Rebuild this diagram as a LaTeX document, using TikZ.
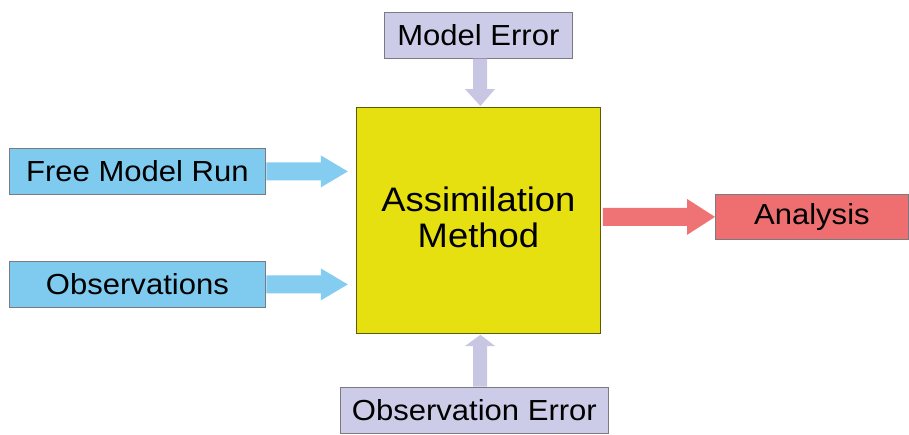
\documentclass[tikz,border=0pt]{standalone}
\usepackage{fontspec}
\setmainfont[FakeStretch=1.07]{Liberation Sans}
\usetikzlibrary{calc}
\definecolor{boxblue}{HTML}{7FCBEF}
\definecolor{arrblue}{HTML}{84CDF0}
\definecolor{lav}{HTML}{CDCCE8}
\definecolor{arrlav}{HTML}{C9C6E3}
\definecolor{boxred}{HTML}{EF6F70}
\definecolor{arrred}{HTML}{EF7374}
\definecolor{yel}{HTML}{E6E011}
\definecolor{edge}{HTML}{7A7A80}
\begin{document}
\begin{tikzpicture}[x=1pt,y=-1pt,
  box/.style={draw=edge,line width=0.8pt,inner sep=0pt,anchor=north west,font=\fontsize{29}{33}\selectfont}]
\useasboundingbox (0,0) rectangle (909,434);
\fill[white] (0,0) rectangle (909,434);
% nodes
\node[box,fill=lav,minimum width=188pt,minimum height=46pt] (me) at (384,12) {Model Error};
\node[box,fill=yel,draw=black!60!yel,minimum width=244pt,minimum height=226pt] (am) at (356,107) {};
\node[font=\fontsize{34}{36}\selectfont,align=center] (amt) at ($(am.center)+(0,-3)$) {Assimilation\\Method};
\node[box,fill=boxblue,minimum width=256pt,minimum height=46pt] (fmr) at (9,148) {Free Model Run};
\node[box,fill=boxblue,minimum width=256pt,minimum height=46pt] (obs) at (9,261) {Observations};
\node[box,fill=boxred,minimum width=193pt,minimum height=45pt] (an) at (715,194) {Analysis};
\node[box,fill=lav,minimum width=268pt,minimum height=46pt] (oe) at (340,387) {Observation Error};
% arrows
\coordinate (t1) at ($(fmr.east)+(82,0)$);
\fill[arrblue] ($(fmr.east)+(0.5,-9)$) -- ($(t1)+(-27,-9)$) -- ($(t1)+(-27,-16)$) -- (t1) -- ($(t1)+(-27,16)$) -- ($(t1)+(-27,9)$) -- ($(fmr.east)+(0.5,9)$) -- cycle;
\coordinate (t2) at ($(obs.east)+(82,0)$);
\fill[arrblue] ($(obs.east)+(0.5,-9)$) -- ($(t2)+(-27,-9)$) -- ($(t2)+(-27,-16)$) -- (t2) -- ($(t2)+(-27,16)$) -- ($(t2)+(-27,9)$) -- ($(obs.east)+(0.5,9)$) -- cycle;
\coordinate (t3) at ($(am.north)+(2,-1)$);
\fill[arrlav] (473,58.5) -- (473,89) -- (465,89) -- (t3) -- (495,89) -- (487,89) -- (487,58.5) -- cycle;
\coordinate (t4) at ($(am.south)+(2,1)$);
\fill[arrlav] (473,386.5) -- (473,346) -- (465,346) -- (t4) -- (495,346) -- (487,346) -- (487,386.5) -- cycle;
\coordinate (s5) at ($(am.east |- an.west)+(2,0)$);
\coordinate (t5) at (an.west);
\fill[arrred] ($(s5)+(0,-9)$) -- ($(t5)+(-28,-9)$) -- ($(t5)+(-28,-18)$) -- (t5) -- ($(t5)+(-28,18)$) -- ($(t5)+(-28,9)$) -- ($(s5)+(0,9)$) -- cycle;
\end{tikzpicture}
\end{document}
